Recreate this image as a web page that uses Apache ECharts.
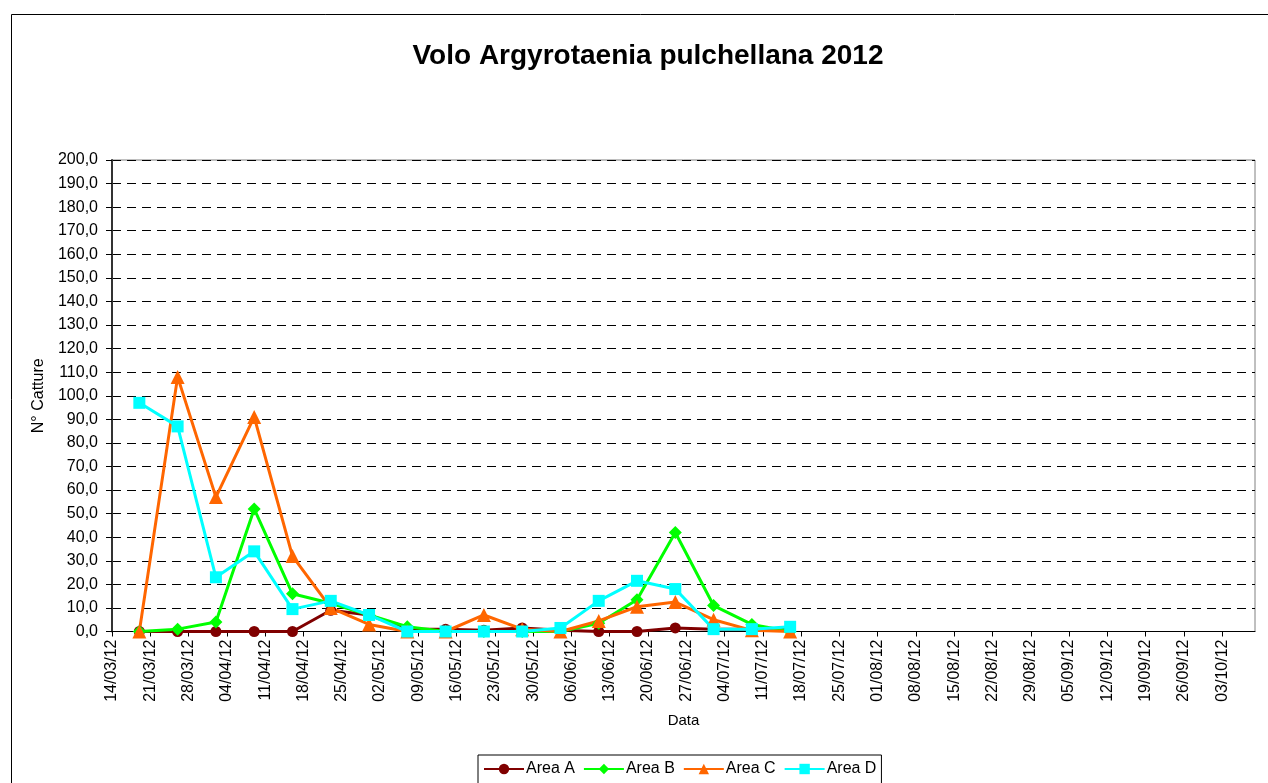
<!DOCTYPE html>
<html>
<head>
<meta charset="utf-8">
<script src="https://cdn.jsdelivr.net/npm/echarts@6/dist/echarts.min.js"></script>
<style>
html,body{margin:0;padding:0;background:#fff;}
#chart{width:1268px;height:783px;}
</style>
</head>
<body>
<div id="chart"></div>
<script>
// ---- data ----
var startDate = '14/03/12';
var tickLabels = ['14/03/12','21/03/12','28/03/12','04/04/12','11/04/12','18/04/12','25/04/12','02/05/12','09/05/12','16/05/12','23/05/12','30/05/12','06/06/12','13/06/12','20/06/12','27/06/12','04/07/12','11/07/12','18/07/12','25/07/12','01/08/12','08/08/12','15/08/12','22/08/12','29/08/12','05/09/12','12/09/12','19/09/12','26/09/12','03/10/12'];
var sampleDates = ['19/03/12','26/03/12','02/04/12','09/04/12','16/04/12','23/04/12','30/04/12','07/05/12','14/05/12','21/05/12','28/05/12','04/06/12','11/06/12','18/06/12','25/06/12','02/07/12','09/07/12','16/07/12'];
var areaA = [0, 0, 0, 0, 0, 9, 7, 1, 1, 0.5, 1.5, 0.5, 0, 0, 1.5, 1, 1, 1];
var areaB = [0, 1, 4, 52, 16, 12, 7, 2, 0, 0, 0, 0, 3.5, 13.5, 42, 11, 3, 0];
var areaC = [0, 108, 57, 91, 32, 10, 3, 0, 0, 7, 1, 0, 4.5, 10.5, 12.5, 5, 0.5, 0];
var areaD = [97, 87, 23, 34, 9.5, 13, 7, 0, 0, 0, 0, 1.5, 13, 21.5, 18, 1, 1, 2];
var seriesNames = ['Area A', 'Area B', 'Area C', 'Area D'];
var titleText = 'Volo Argyrotaenia pulchellana 2012';

function dayNum(s) {
  var p = s.split('/');
  return Date.UTC(2000 + (+p[2]), (+p[1]) - 1, +p[0]) / 86400000;
}
var d0 = dayNum(startDate);
function pairs(vals) {
  return vals.map(function (v, i) { return [dayNum(sampleDates[i]) - d0, v]; });
}

var chart = echarts.init(document.getElementById('chart'), null, {renderer: 'canvas'});
var FONT = 'Liberation Sans, Arial, sans-serif';

function mkSeries(name, vals, color, symbol, size) {
  return {
    name: name, type: 'line', data: pairs(vals),
    symbol: symbol, symbolSize: size,
    lineStyle: {color: color, width: 3},
    itemStyle: {color: color},
    emphasis: {disabled: true},
    animation: false
  };
}

chart.setOption({
  backgroundColor: '#fff',
  animation: false,
  graphic: [
    {type: 'rect', z: -10, shape: {x: 11.5, y: 14.5, width: 1400, height: 900}, style: {fill: 'none', stroke: '#000', lineWidth: 1}},
    {type: 'text', x: 648, y: 56, style: {text: titleText, font: 'bold 28px ' + FONT, fill: '#000', align: 'center', verticalAlign: 'middle', textAlign: 'center', textVerticalAlign: 'middle'}}
  ],
  grid: {left: 112, right: 13, top: 160, bottom: 151.5, show: true, borderColor: '#808080', borderWidth: 1},
  legend: {
    data: seriesNames,
    left: 478, top: 755,
    orient: 'horizontal',
    itemWidth: 40, itemHeight: 13, itemGap: 8,
    padding: [6, 5, 20, 5],
    borderColor: '#000', borderWidth: 1,
    textStyle: {fontFamily: FONT, fontSize: 16, color: '#000', padding: [0, 0, 0, -3]}
  },
  xAxis: {
    type: 'value', min: 0, max: 209, interval: 7,
    name: 'Data', nameLocation: 'middle', nameGap: 82,
    nameTextStyle: {fontFamily: FONT, fontSize: 15, color: '#000'},
    axisLine: {lineStyle: {color: '#000', width: 1}},
    axisTick: {show: true, length: 5, lineStyle: {color: '#000'}},
    axisLabel: {
      rotate: 90, margin: 8, fontFamily: FONT, fontSize: 16, color: '#000',
      showMaxLabel: false,
      formatter: function (v) { return (v % 7 === 0 && tickLabels[v / 7]) ? tickLabels[v / 7] : ''; }
    },
    splitLine: {show: false}
  },
  yAxis: {
    type: 'value', min: 0, max: 200, interval: 10,
    name: 'N° Catture', nameLocation: 'middle', nameGap: 64,
    nameTextStyle: {fontFamily: FONT, fontSize: 16, color: '#000'},
    axisLine: {show: true, lineStyle: {color: '#333', width: 2}},
    axisTick: {show: true, length: 6, lineStyle: {color: '#000'}},
    axisLabel: {
      margin: 14, fontFamily: FONT, fontSize: 16, color: '#000',
      formatter: function (v) { return v.toFixed(1).replace('.', ','); }
    },
    splitLine: {show: true, lineStyle: {color: '#000', width: 1, type: [9, 6]}}
  },
  series: [
    mkSeries(seriesNames[0], areaA, '#800000', 'circle', 11),
    mkSeries(seriesNames[1], areaB, '#00ff00', 'diamond', 13),
    mkSeries(seriesNames[2], areaC, '#ff6600', 'triangle', 14),
    mkSeries(seriesNames[3], areaD, '#00ffff', 'rect', 12)
  ]
});
</script>
</body>
</html>
